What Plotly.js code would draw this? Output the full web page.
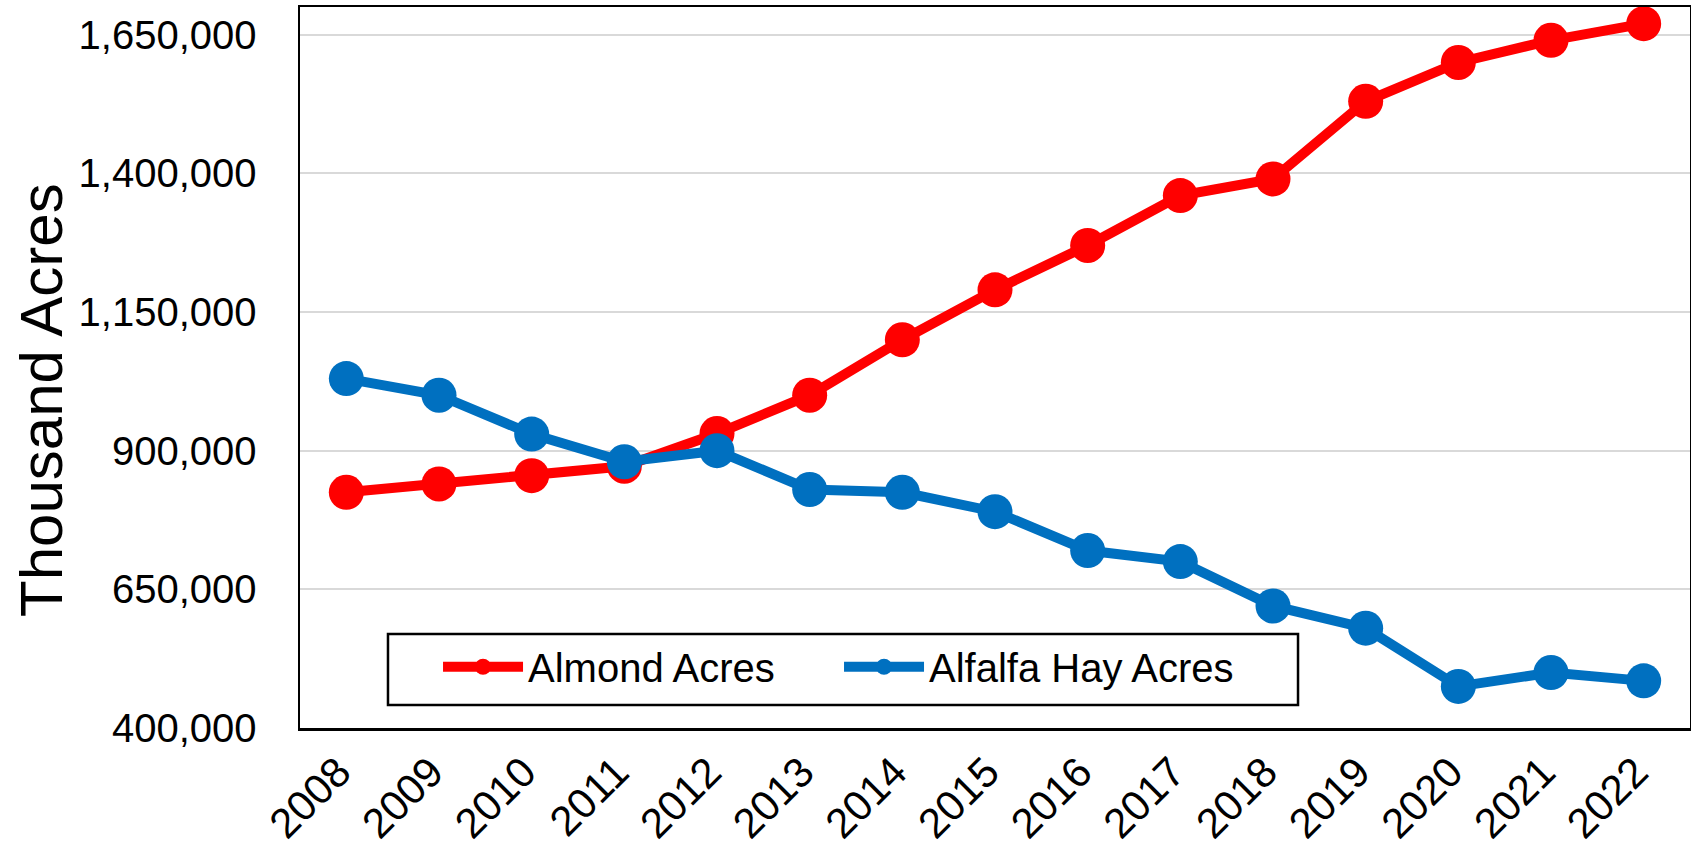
<!DOCTYPE html>
<html>
<head>
<meta charset="utf-8">
<script src="https://cdn.plot.ly/plotly-3.0.1.min.js"></script>
<style>html,body{margin:0;padding:0;background:#fff;}#chart{width:1691px;height:852px;}</style>
</head>
<body>
<div id="chart"></div>
<script>
const years = ["2008","2009","2010","2011","2012","2013","2014","2015","2016","2017","2018","2019","2020","2021","2022"];
const almondAcres = [825000, 840000, 855000, 872000, 931000, 1000000, 1100000, 1190000, 1270000, 1360000, 1390000, 1530000, 1600000, 1640000, 1670000];
const alfalfaAcres = [1030000, 1000000, 930000, 880000, 900000, 830000, 825000, 790000, 720000, 700000, 620000, 580000, 475000, 500000, 485000];
const yTicks = [400000, 650000, 900000, 1150000, 1400000, 1650000];
const yTitle = "Thousand Acres";

const FONT = "Liberation Sans, Arial, Helvetica, sans-serif";

const traces = [
  {x: years, y: almondAcres, name: "Almond Acres", type: "scatter", mode: "lines+markers",
   line: {color: "#FF0000", width: 10}, marker: {color: "#FF0000", size: 35}},
  {x: years, y: alfalfaAcres, name: "Alfalfa Hay Acres", type: "scatter", mode: "lines+markers",
   line: {color: "#0070C0", width: 10}, marker: {color: "#0070C0", size: 35}}
];

const layout = {
  width: 1691, height: 852,
  margin: {l: 300, r: 1, t: 7, b: 124, pad: 0},
  paper_bgcolor: "#fff", plot_bgcolor: "#fff",
  font: {family: FONT, color: "#000", size: 40},
  showlegend: true,
  legend: {
    orientation: "h", x: 0.0993, xanchor: "left", y: 0.13, yanchor: "top",
    borderwidth: 0, bgcolor: "rgba(0,0,0,0)",
    font: {family: FONT, size: 40, color: "#000"},
    itemwidth: 80, entrywidth: 306, entrywidthmode: "pixels"
  },
  shapes: [{
    type: "rect", xref: "paper", yref: "paper", layer: "above",
    x0: 0.0633, x1: 0.7180, y0: 0.0319, y1: 0.1304,
    line: {color: "#000", width: 2.5}, fillcolor: "rgba(0,0,0,0)"
  }],
  xaxis: {
    type: "category", range: [-0.5, 14.5],
    showline: true, linecolor: "#000", linewidth: 2.5, mirror: true,
    showgrid: false, zeroline: false, ticks: "", tickangle: -45,
    ticklabelstandoff: 0, ticklabelshift: -8,
    tickfont: {family: FONT, size: 42, color: "#000"}
  },
  yaxis: {
    range: [400000, 1700000], tickvals: yTicks, tickformat: ",d",
    showline: true, linecolor: "#000", linewidth: 2.5, mirror: true,
    showgrid: true, gridcolor: "#d9d9d9", gridwidth: 2, zeroline: false,
    ticks: "", ticklabelstandoff: 33,
    tickfont: {family: FONT, size: 40, color: "#000"}
  },
  annotations: [{
    text: yTitle, xref: "paper", yref: "paper", x: -0.1856, y: 0.455,
    xanchor: "center", yanchor: "middle", textangle: -90, showarrow: false,
    font: {family: FONT, size: 60, color: "#000"}
  }]
};

Plotly.newPlot("chart", traces, layout, {displayModeBar: false, staticPlot: true});
</script>
</body>
</html>
